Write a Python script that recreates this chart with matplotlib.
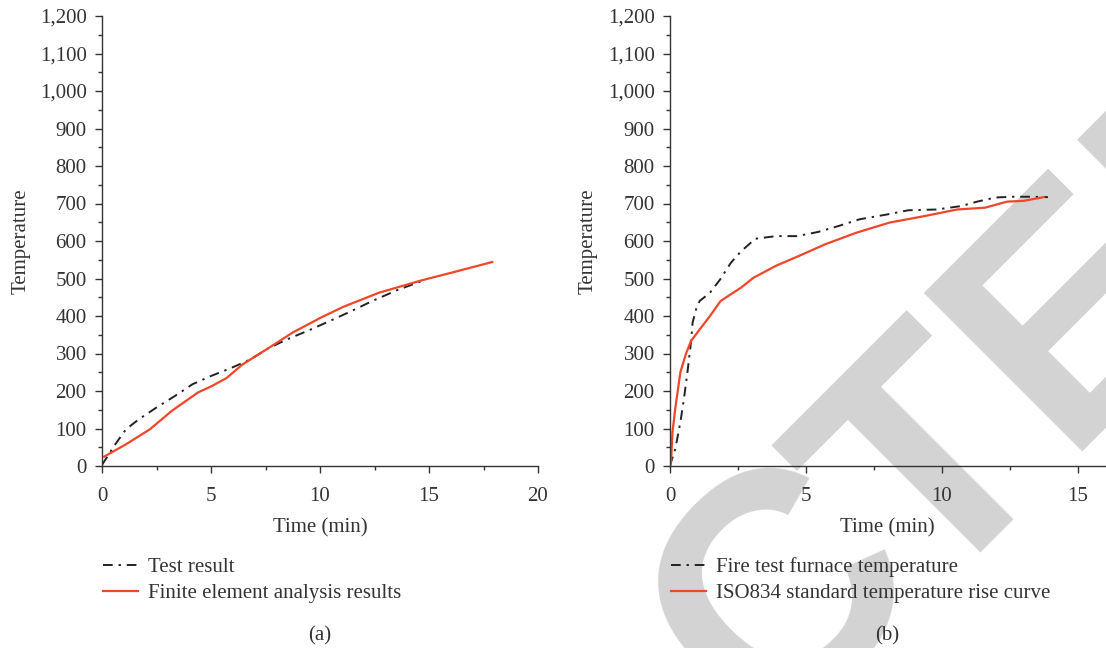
import matplotlib
matplotlib.use("Agg")
import matplotlib.pyplot as plt
from matplotlib.ticker import MultipleLocator, StrMethodFormatter

# (a) test vs finite element
a_test_t = [0, 0.3, 0.55, 1.1, 1.7, 2.5, 3.3, 4.15, 5.0, 5.95, 6.8, 7.6, 8.5, 9.5, 10.5, 11.4, 12.4, 13.5, 14.7]
a_test_v = [3, 30, 53, 98, 125, 156, 185, 218, 240, 262, 284, 313, 338, 362, 388, 412, 440, 468, 494]
a_fea_t = [0.1, 1.1, 2.2, 3.2, 4.4, 5.0, 5.7, 6.45, 7.6, 8.75, 10.05, 11.05, 12.7, 14.66, 16.2, 17.9]
a_fea_v = [25, 58, 98, 147, 196, 212, 234, 271, 313, 356, 396, 424, 462, 495, 518, 544]

# (b) furnace vs ISO834
b_fire_t = [0, 0.04, 0.19, 0.38, 0.51, 0.64, 0.77, 0.83, 0.96, 1.09, 1.47, 1.85, 2.24, 2.62, 3.14,
            3.9, 4.67, 5.44, 6.2, 6.98, 8.0, 8.77, 9.8, 10.7, 11.3, 11.97, 12.6, 13.25, 13.9]
b_fire_v = [0, 11, 44, 116, 178, 249, 329, 382, 418, 440, 462, 498, 542, 573, 606,
            613, 613, 624, 640, 658, 671, 682, 684, 693, 705, 716, 718, 718, 717]
b_iso_t = [0, 0.04, 0.09, 0.19, 0.38, 0.58, 0.77, 1.09, 1.47, 1.86, 2.24, 2.62, 3.07, 3.9, 4.8,
           5.7, 6.85, 8.07, 9.4, 10.56, 11.6, 12.4, 13.0, 13.75]
b_iso_v = [0, 13, 89, 151, 249, 298, 333, 364, 400, 440, 458, 476, 502, 534, 562,
           591, 622, 649, 667, 684, 689, 705, 707, 717]

red = "#f0462a"
dark = "#222222"
txt = "#333333"

plt.rcParams["font.family"] = ["Liberation Serif", "DejaVu Serif"]
plt.rcParams["font.size"] = 15
plt.rcParams["text.color"] = txt
plt.rcParams["axes.labelcolor"] = txt
plt.rcParams["xtick.color"] = txt
plt.rcParams["ytick.color"] = txt

fig = plt.figure(figsize=(11.06, 6.48), dpi=100)
fig.patch.set_facecolor("white")

# retraction watermark behind everything (split so the C sits a bit closer)
wm = dict(rotation=45, rotation_mode="anchor", va="baseline", fontsize=234,
          fontweight="bold", family="Liberation Sans", color="#d3d3d3", zorder=-5)
fig.text(0.8400, 0.1204, "RETRAC", ha="right", **wm)
fig.text(0.8373, 0.0679, "TED", ha="left", **wm)

ax1 = fig.add_axes([102 / 1106, 1 - 466 / 648, 436 / 1106, 450 / 648])
ax2 = fig.add_axes([670 / 1106, 1 - 466 / 648, 435 / 1106, 450 / 648])

ax1.plot(a_test_t, a_test_v, color=dark, lw=1.4, dashes=[5, 3, 1.2, 3], label="Test result")
ax1.plot(a_fea_t, a_fea_v, color=red, lw=1.6, label="Finite element analysis results")
ax2.plot(b_fire_t, b_fire_v, color=dark, lw=1.4, dashes=[5, 3, 1.2, 3], label="Fire test furnace temperature")
ax2.plot(b_iso_t, b_iso_v, color=red, lw=1.6, label="ISO834 standard temperature rise curve")

for ax, xmax, tag in [(ax1, 20, "(a)"), (ax2, 16, "(b)")]:
    ax.set_facecolor("none")
    ax.set_xlim(0, xmax)
    ax.set_ylim(0, 1200)
    ax.xaxis.set_major_locator(MultipleLocator(5))
    ax.xaxis.set_minor_locator(MultipleLocator(2.5))
    ax.yaxis.set_major_locator(MultipleLocator(100))
    ax.yaxis.set_minor_locator(MultipleLocator(50))
    ax.yaxis.set_major_formatter(StrMethodFormatter("{x:,.0f}"))
    ax.spines["top"].set_visible(False)
    ax.spines["right"].set_visible(False)
    for s in ("left", "bottom"):
        ax.spines[s].set_color(txt)
        ax.spines[s].set_linewidth(1.0)
    ax.tick_params(which="major", length=5, width=1, labelsize=15)
    ax.tick_params(axis="y", which="major", pad=6)
    ax.tick_params(axis="x", which="major", pad=10)
    ax.tick_params(which="minor", length=3, width=1)
    ax.set_xlabel("Time (min)", fontsize=15, labelpad=9)
    ax.set_ylabel("Temperature", fontsize=15, labelpad=7)
    ax.legend(loc="upper left", bbox_to_anchor=(-0.017, -0.185), frameon=False,
              fontsize=15, handlelength=1.7, handletextpad=0.45, labelspacing=0.3,
              borderaxespad=0)
    ax.text(0.5, -0.377, tag, transform=ax.transAxes, ha="center", va="center", fontsize=15)

fig.savefig("out.png", dpi=100, facecolor="white")
